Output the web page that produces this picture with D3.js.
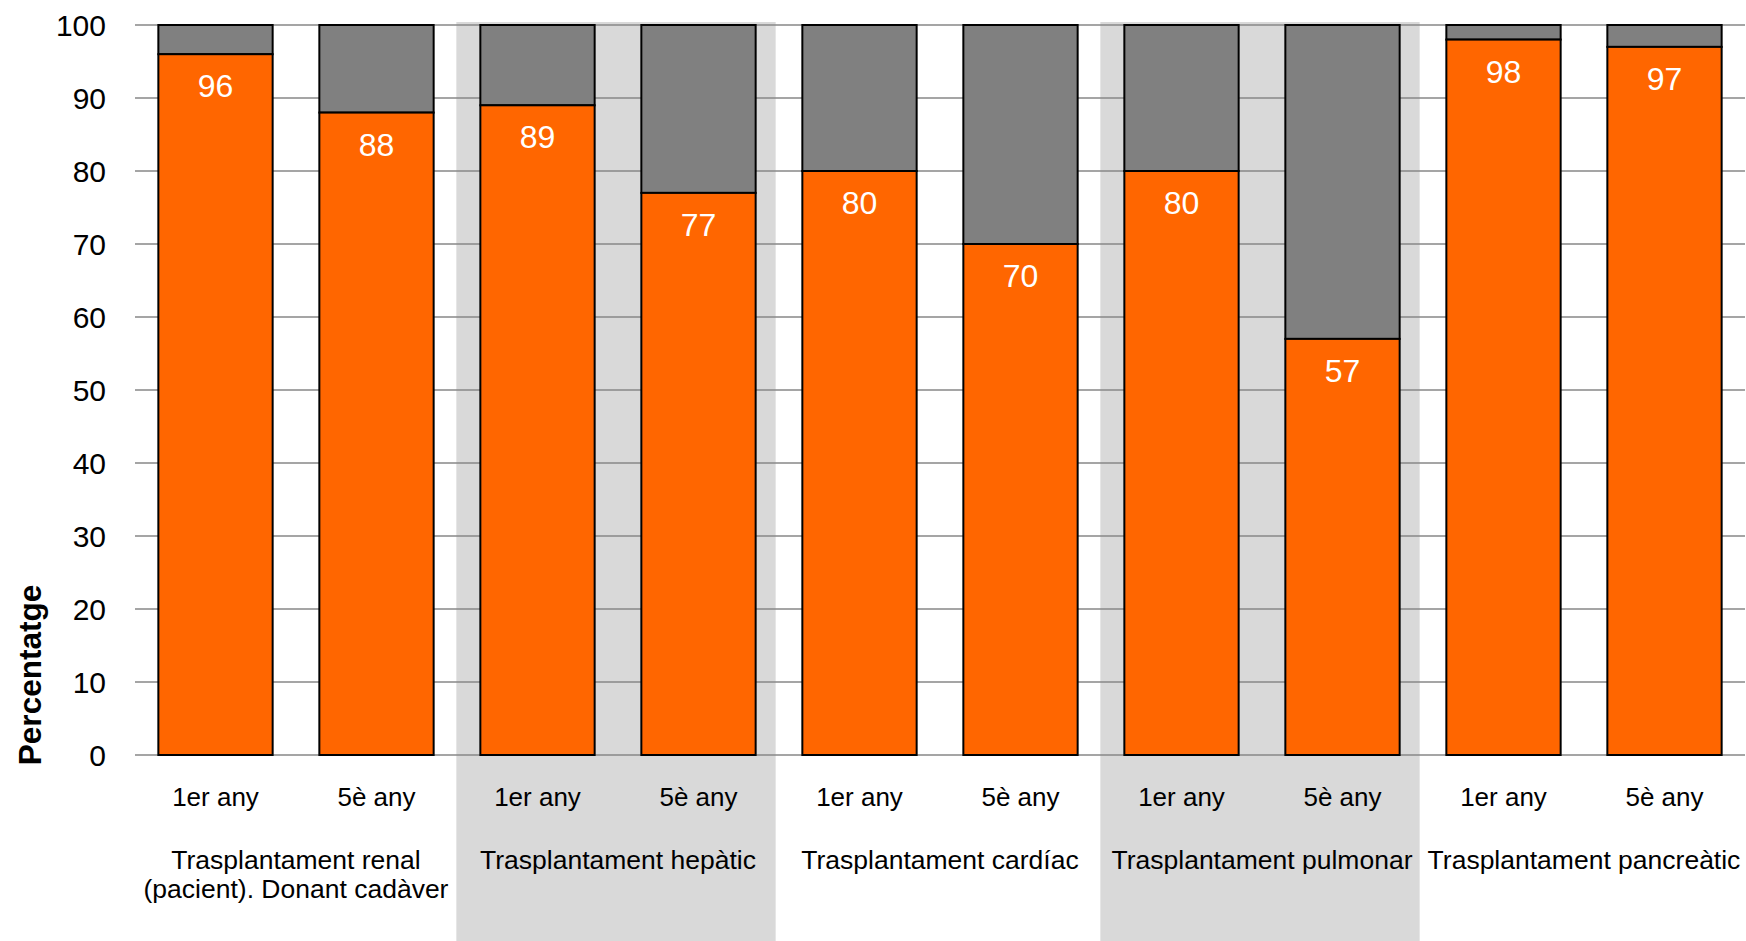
<!DOCTYPE html>
<html>
<head>
<meta charset="utf-8">
<script src="https://cdn.jsdelivr.net/npm/d3@7"></script>
<style>
  html, body { margin: 0; padding: 0; background: #fff; }
  svg { display: block; font-family: "Liberation Sans", Arial, sans-serif; }
</style>
</head>
<body>
<svg id="chart" width="1746" height="941"></svg>
<script>
// ---- data ----
const groups = [
  ["Trasplantament renal", "(pacient). Donant cadàver"],
  ["Trasplantament hepàtic"],
  ["Trasplantament cardíac"],
  ["Trasplantament pulmonar"],
  ["Trasplantament pancreàtic"]
];
const periods = ["1er any", "5è any"];
const survival = [96, 88, 89, 77, 80, 70, 80, 57, 98, 97];
const remainder = [4, 12, 11, 23, 20, 30, 20, 43, 2, 3];
const yTicks = [0, 10, 20, 30, 40, 50, 60, 70, 80, 90, 100];
const shadedGroups = [1, 3];

(function () {
// ---- layout ----
const svg = d3.select("#chart");
const mLeft = 135, mRight = 1745, mTop = 25, mBottom = 755;

const barIdx = d3.range(survival.length);
const x = d3.scaleBand().domain(barIdx).range([mLeft, mRight])
  .paddingInner(0.29).paddingOuter(0.145);
const y = d3.scaleLinear().domain([0, 100]).range([mBottom, mTop]);
const step = x.step();
const bw = x.bandwidth();

// shaded group backgrounds
svg.append("g").selectAll("rect").data(shadedGroups).join("rect")
  .attr("x", g => x(g * 2) - 24)
  .attr("width", g => x(g * 2 + 1) + bw + 20 - (x(g * 2) - 24))
  .attr("y", mTop - 3)
  .attr("height", 941 - (mTop - 3))
  .attr("fill", "#d9d9d9");

// gridlines
svg.append("g").selectAll("line").data(yTicks).join("line")
  .attr("x1", mLeft).attr("x2", mRight)
  .attr("y1", d => y(d)).attr("y2", d => y(d))
  .attr("stroke", "#878787").attr("stroke-width", 1.5);

// y tick labels
svg.append("g").selectAll("text").data(yTicks).join("text")
  .attr("x", 106).attr("y", d => y(d) + 10.5)
  .attr("text-anchor", "end")
  .attr("font-size", 30).attr("fill", "#000")
  .text(d => d);

// y title
svg.append("text")
  .attr("transform", "translate(41,675) rotate(-90)")
  .attr("text-anchor", "middle")
  .attr("font-size", 31.5).attr("font-weight", "bold")
  .text("Percentatge");

// bars: remainder (grey) on top of survival (orange)
const bars = svg.append("g");
bars.selectAll("rect.rest").data(barIdx).join("rect")
  .attr("class", "rest")
  .attr("x", i => x(i)).attr("width", bw)
  .attr("y", i => y(survival[i] + remainder[i]))
  .attr("height", i => y(survival[i]) - y(survival[i] + remainder[i]))
  .attr("fill", "#808080").attr("stroke", "#000").attr("stroke-width", 2);
bars.selectAll("rect.surv").data(barIdx).join("rect")
  .attr("class", "surv")
  .attr("x", i => x(i)).attr("width", bw)
  .attr("y", i => y(survival[i]))
  .attr("height", i => y(0) - y(survival[i]))
  .attr("fill", "#ff6600").attr("stroke", "#000").attr("stroke-width", 2);

// value labels
svg.append("g").selectAll("text").data(barIdx).join("text")
  .attr("x", i => x(i) + bw / 2)
  .attr("y", i => y(survival[i]) + 43)
  .attr("text-anchor", "middle")
  .attr("font-size", 32).attr("fill", "#fff")
  .text(i => survival[i]);

// x tick labels
svg.append("g").selectAll("text").data(barIdx).join("text")
  .attr("x", i => x(i) + bw / 2)
  .attr("y", 805.5)
  .attr("text-anchor", "middle")
  .attr("font-size", 26).attr("fill", "#000")
  .text(i => periods[i % 2]);

// group labels
const gl = svg.append("g").selectAll("text").data(groups).join("text")
  .attr("y", 868.5)
  .attr("text-anchor", "middle")
  .attr("font-size", 26.5).attr("fill", "#000");
gl.each(function (g, gi) {
  const cx = (x(gi * 2) + x(gi * 2 + 1) + bw) / 2;
  d3.select(this).selectAll("tspan").data(g).join("tspan")
    .attr("x", cx)
    .attr("dy", (d, i) => i === 0 ? 0 : 29)
    .text(d => d);
});
})();
</script>
</body>
</html>
